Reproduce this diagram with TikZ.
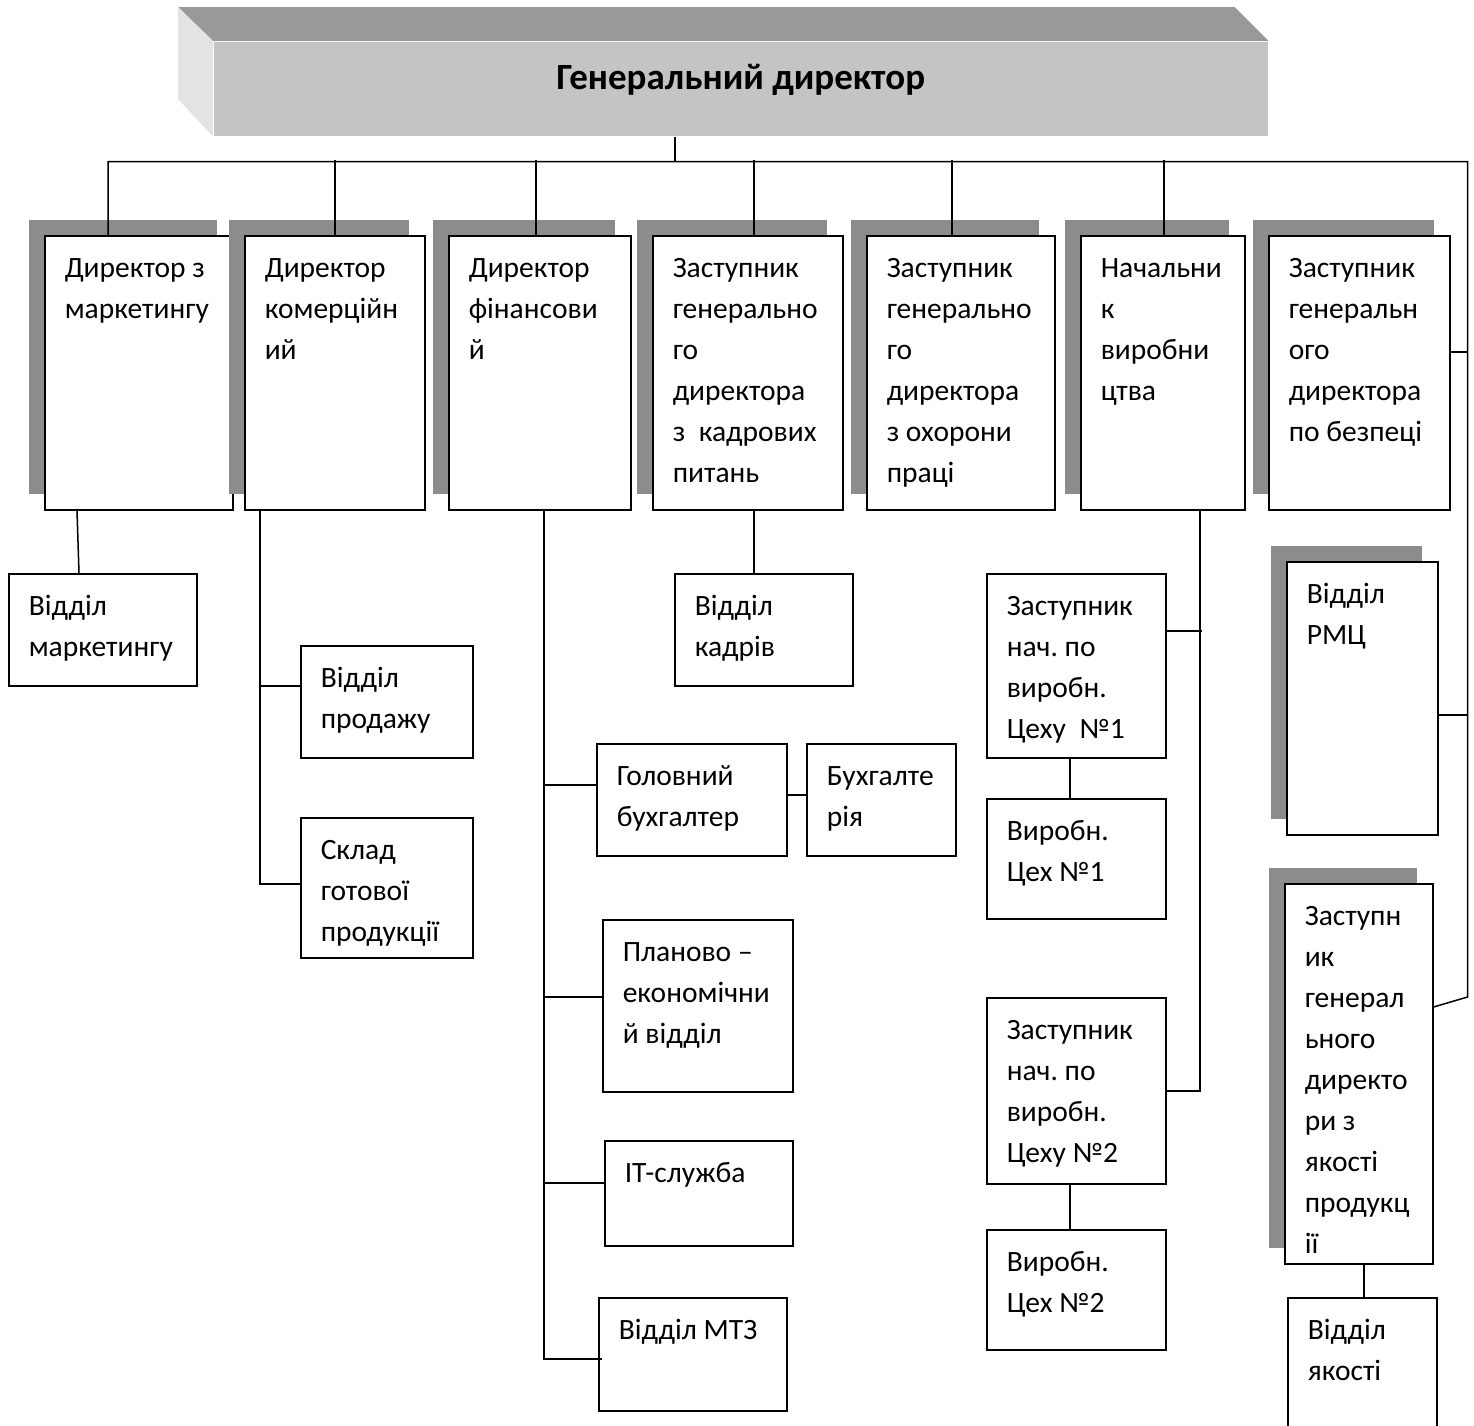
\documentclass[tikz,border=0pt]{standalone}
\usepackage{fontspec}
\setmainfont{Carlito}
\usetikzlibrary{positioning, shadows}

\begin{document}
\begin{tikzpicture}[x=1pt, y=-1pt, line width=1.5pt,
    font=\fontsize{29.5}{41}\selectfont,
    unit/.style 2 args={draw, fill=white, anchor=north west,
        inner xsep=20pt, inner ysep=13pt,
        execute at begin node={\raggedright\spaceskip=0.23em\xspaceskip=0.23em\relax},
        /utils/exec={\pgfmathsetlengthmacro\unitw{#1-40}\pgfmathsetlengthmacro\unitd{#2-55}},
        text width=\unitw, text height=29pt, text depth=\unitd},
    dotshadow/.style={drop shadow={shadow xshift=-16pt, shadow yshift=16pt,
        fill=black!45, opacity=1}}]
    \useasboundingbox (0,0) rectangle (1474,1425);
    \clip (0,0) rectangle (1474,1425);

    % head
    \node (gen) [fill=black!23, anchor=north west, minimum width=1054pt, minimum height=94pt,
        inner sep=0pt, text depth=24pt, font=\fontsize{37}{41}\selectfont\bfseries] at (213,41) {Генеральний директор};
    \fill[black!40] (gen.north west) -- ++(-35,-34) -- ([xshift=-34pt, yshift=34pt]gen.north east) -- (gen.north east) -- cycle;
    \fill[black!11] (gen.north west) -- ++(-35,-34) -- ++(0,92) -- (gen.south west) -- cycle;

    % first level
    \node (dmkt) [unit={188}{274}, dotshadow] at (44,235) {Директор з\\маркетингу};
    \node (dcom) [unit={180}{274}, dotshadow] at (244,235) {Директор\\комерційн\\ий};
    \node (dfin) [unit={182}{274}, dotshadow] at (448,235) {Директор\\фінансови\\й};
    \node (zhr) [unit={190}{274}, dotshadow] at (652,235) {Заступник\\генерально\\го\\директора\\з \ кадрових\\питань};
    \node (zohp) [unit={188}{274}, dotshadow] at (866,235) {Заступник\\генерально\\го\\директора\\з охорони\\праці};
    \node (nvyr) [unit={164}{274}, dotshadow] at (1080,235) {Начальни\\к\\виробни\\цтва};
    \node (zbez) [unit={181}{274}, dotshadow] at (1268,235) {Заступник\\генеральн\\ого\\директора\\по безпеці};

    % departments
    \node (vmkt) [unit={188}{112}] at (8,573) {Відділ\\маркетингу};
    \node (vprod) [unit={172}{112}] at (300,645) {Відділ\\продажу};
    \node (sklad) [unit={172}{140}] at (300,817) {Склад\\готової\\продукції};
    \node (gbuh) [unit={190}{112}] at (596,743) {Головний\\бухгалтер};
    \node (buh) [unit={149}{112}] at (806,743) {Бухгалте\\рія};
    \node (plan) [unit={190}{172}] at (602,919) {Планово –\\економічни\\й відділ};
    \node (it) [unit={188}{105}] at (604,1140) {ІТ-служба};
    \node (mtz) [unit={188}{113}] at (598,1297) {Відділ МТЗ};
    \node (vkadr) [unit={178}{112}] at (674,573) {Відділ\\кадрів};
    \node (zc1) [unit={179}{184}] at (986,573) {Заступник\\нач. по\\виробн.\\Цеху \ №1};
    \node (c1) [unit={179}{120}] at (986,798) {Виробн.\\Цех №1};
    \node (zc2) [unit={179}{186}] at (986,997) {Заступник\\нач. по\\виробн.\\Цеху №2};
    \node (c2) [unit={179}{120}] at (986,1229) {Виробн.\\Цех №2};
    \node (rmc) [unit={151}{273}, dotshadow] at (1286,561) {Відділ\\РМЦ};
    \node (zyak) [unit={148}{380}, dotshadow] at (1284,883) {Заступн\\ик\\генерал\\ьного\\директо\\ри з\\якості\\продукц\\ії};
    \node (vyak) [unit={149}{180}] at (1287,1297) {Відділ\\якості};

    % bus
    \draw ([xshift=-66pt]gen.south) -- ++(0,25) coordinate (bus);
    \draw ([xshift=64pt]dmkt.north west) |- (bus) -| ([xshift=34pt, yshift=-114pt]zyak.north east)
        -- ([yshift=-124pt]zyak.north east);
    \foreach \n/\dx in {dcom/91, dfin/88, zhr/102, zohp/86, nvyr/84}
        \draw ([xshift=\dx pt]\n.north west) -- ++(0,-75);
    \draw ([yshift=-117pt]zbez.north east) -- ++(17,0);
    \draw ([yshift=-154pt]rmc.north east) -- ++(29,0);

    % branches
    \draw ([xshift=33pt]dmkt.south west) -- ([xshift=71pt]vmkt.north west);
    \draw ([xshift=16pt]dcom.south west) |- ([yshift=-67pt]sklad.north west);
    \draw ([yshift=-41pt]vprod.north west) -- ++(-40,0);
    \draw ([xshift=96pt]dfin.south west) |- ([xshift=4pt, yshift=-62pt]mtz.north west);
    \draw ([yshift=-42pt]gbuh.north west) -- ++(-52,0);
    \draw ([yshift=-52pt]gbuh.north east) -- ([yshift=-52pt]buh.north west);
    \draw ([yshift=-78pt]plan.north west) -- ++(-58,0);
    \draw ([yshift=-43pt]it.north west) -- ++(-60,0);
    \draw ([xshift=102pt]zhr.south west) -- ([xshift=80pt]vkadr.north west);
    \draw ([xshift=120pt]nvyr.south west) |- (zc2.east);
    \draw ([yshift=-58pt]zc1.north east) -- ++(35,0);
    \draw ([xshift=84pt]zc1.south west) -- ([xshift=84pt]c1.north west);
    \draw ([xshift=84pt]zc2.south west) -- ([xshift=84pt]c2.north west);
    \draw ([xshift=80pt]zyak.south west) -- ([xshift=77pt]vyak.north west);
\end{tikzpicture}
\end{document}
